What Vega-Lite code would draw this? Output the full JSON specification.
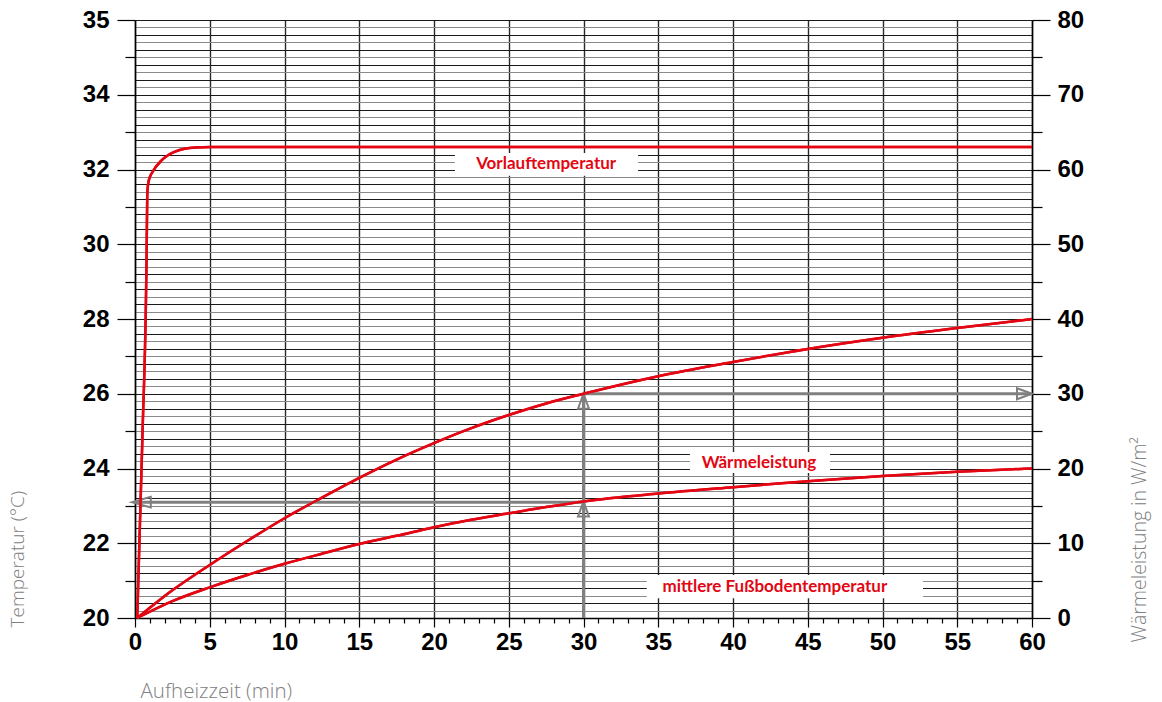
{
  "$schema": "https://vega.github.io/schema/vega-lite/v6.json",
  "width": 897,
  "height": 598,
  "autosize": {"type": "none"},
  "padding": {"left": 135, "top": 20, "right": 130, "bottom": 84},
  "background": "white",
  "config": {"view": {"stroke": null}},
  "datasets": {
    "temperatur": [
      {"kurve": "Vorlauftemperatur", "min": 0.15, "t": 20},
      {"kurve": "Vorlauftemperatur", "min": 0.49, "t": 24.76},
      {"kurve": "Vorlauftemperatur", "min": 0.78, "t": 29.85},
      {"kurve": "Vorlauftemperatur", "min": 0.82, "t": 31.32},
      {"kurve": "Vorlauftemperatur", "min": 0.87, "t": 31.59},
      {"kurve": "Vorlauftemperatur", "min": 0.97, "t": 31.77},
      {"kurve": "Vorlauftemperatur", "min": 1.12, "t": 31.9},
      {"kurve": "Vorlauftemperatur", "min": 1.79, "t": 32.25},
      {"kurve": "Vorlauftemperatur", "min": 2.68, "t": 32.48},
      {"kurve": "Vorlauftemperatur", "min": 4.01, "t": 32.59},
      {"kurve": "Vorlauftemperatur", "min": 5.13, "t": 32.6},
      {"kurve": "Vorlauftemperatur", "min": 60, "t": 32.6},
      {"kurve": "mittlere Fußbodentemperatur", "min": 0.15, "t": 20},
      {"kurve": "mittlere Fußbodentemperatur", "min": 2.5, "t": 20.45},
      {"kurve": "mittlere Fußbodentemperatur", "min": 5, "t": 20.82},
      {"kurve": "mittlere Fußbodentemperatur", "min": 7.5, "t": 21.15},
      {"kurve": "mittlere Fußbodentemperatur", "min": 10, "t": 21.45},
      {"kurve": "mittlere Fußbodentemperatur", "min": 12.5, "t": 21.72},
      {"kurve": "mittlere Fußbodentemperatur", "min": 15, "t": 21.98},
      {"kurve": "mittlere Fußbodentemperatur", "min": 17.5, "t": 22.2},
      {"kurve": "mittlere Fußbodentemperatur", "min": 20, "t": 22.43},
      {"kurve": "mittlere Fußbodentemperatur", "min": 22.5, "t": 22.63},
      {"kurve": "mittlere Fußbodentemperatur", "min": 25, "t": 22.8},
      {"kurve": "mittlere Fußbodentemperatur", "min": 27.5, "t": 22.97},
      {"kurve": "mittlere Fußbodentemperatur", "min": 30, "t": 23.12},
      {"kurve": "mittlere Fußbodentemperatur", "min": 35, "t": 23.33},
      {"kurve": "mittlere Fußbodentemperatur", "min": 40, "t": 23.5},
      {"kurve": "mittlere Fußbodentemperatur", "min": 45, "t": 23.66},
      {"kurve": "mittlere Fußbodentemperatur", "min": 50, "t": 23.8},
      {"kurve": "mittlere Fußbodentemperatur", "min": 55, "t": 23.91},
      {"kurve": "mittlere Fußbodentemperatur", "min": 60, "t": 24.0}
    ],
    "leistung": [
      {"min": 0.15, "w": 0},
      {"min": 2.5, "w": 3.7},
      {"min": 5, "w": 7.1},
      {"min": 7.5, "w": 10.3},
      {"min": 10, "w": 13.35},
      {"min": 12.5, "w": 16.1},
      {"min": 15, "w": 18.75},
      {"min": 17.5, "w": 21.2},
      {"min": 20, "w": 23.4},
      {"min": 22.5, "w": 25.4},
      {"min": 25, "w": 27.15},
      {"min": 27.5, "w": 28.7},
      {"min": 30, "w": 30},
      {"min": 35, "w": 32.35},
      {"min": 40, "w": 34.25},
      {"min": 45, "w": 36},
      {"min": 50, "w": 37.5},
      {"min": 55, "w": 38.8},
      {"min": 60, "w": 40}
    ],
    "pfeile": [
      {"von_min": 30, "von_t": 20, "bis_min": 30, "bis_t": 26},
      {"von_min": 30, "von_t": 23.1, "bis_min": 0, "bis_t": 23.1},
      {"von_min": 30, "von_t": 26, "bis_min": 60, "bis_t": 26}
    ],
    "spitzen": [
      {"min": 30, "t": 26, "richtung": "oben"},
      {"min": 30, "t": 23.12, "richtung": "oben"},
      {"min": 60, "t": 26, "richtung": "rechts"},
      {"min": 0, "t": 23.1, "richtung": "links"}
    ],
    "beschriftung": [
      {"text": "Vorlauftemperatur", "min": 27.5, "t": 32.15, "min1": 21.4, "min2": 33.65, "t1": 32.44, "t2": 31.83},
      {"text": "Wärmeleistung", "min": 41.74, "t": 24.15, "min1": 37.12, "min2": 46.49, "t1": 24.44, "t2": 23.88},
      {"text": "mittlere Fußbodentemperatur", "min": 42.8, "t": 20.83, "min1": 34.23, "min2": 52.71, "t1": 21.15, "t2": 20.53}
    ]
  },
  "layer": [
    {
      "data": {"name": "temperatur"},
      "mark": {"type": "line", "color": "#e30613", "strokeWidth": 2.5, "interpolate": "monotone"},
      "encoding": {
        "x": {
          "field": "min", "type": "quantitative",
          "scale": {"domain": [0, 60], "nice": false, "zero": false},
          "axis": {
            "title": "Aufheizzeit (min)",
            "values": [0,1,2,3,4,5,6,7,8,9,10,11,12,13,14,15,16,17,18,19,20,21,22,23,24,25,26,27,28,29,30,31,32,33,34,35,36,37,38,39,40,41,42,43,44,45,46,47,48,49,50,51,52,53,54,55,56,57,58,59,60],
            "grid": true,
            "gridColor": "#2a2a2a",
            "gridWidth": {"condition": {"test": "datum.value % 5 === 0", "value": 1.4}, "value": 0},
            "tickSize": {"condition": {"test": "datum.value % 5 === 0", "value": 9}, "value": 5},
            "tickColor": "#000000",
            "tickWidth": 1.2,
            "labelExpr": "datum.value % 5 === 0 ? datum.value : ''",
            "labelFont": "Liberation Sans",
            "labelFontWeight": "bold",
            "labelFontSize": 24,
            "labelColor": "#000000",
            "labelPadding": 3,
            "labelOverlap": false,
            "labelFlush": false,
            "labelBound": false,
            "domainColor": "#000000",
            "domainWidth": 1.5,
            "titleFont": "Open Sans",
            "titleFontWeight": 300,
            "titleFontSize": 20.5,
            "titleColor": "#808080",
            "titleAnchor": "start",
            "titleX": 5,
            "titlePadding": 27
          }
        },
        "y": {
          "field": "t", "type": "quantitative",
          "scale": {"domain": [20, 36], "nice": false, "zero": false},
          "axis": {
            "title": "Temperatur (°C)",
            "values": [20,20.2,20.4,20.6,20.8,21,21.2,21.4,21.6,21.8,22,22.2,22.4,22.6,22.8,23,23.2,23.4,23.6,23.8,24,24.2,24.4,24.6,24.8,25,25.2,25.4,25.6,25.8,26,26.2,26.4,26.6,26.8,27,27.2,27.4,27.6,27.8,28,28.2,28.4,28.6,28.8,29,29.2,29.4,29.6,29.8,30,30.2,30.4,30.6,30.8,31,31.2,31.4,31.6,31.8,32,32.2,32.4,32.6,32.8,33,33.2,33.4,33.6,33.8,34,34.2,34.4,34.6,34.8,35,35.2,35.4,35.6,35.8,36],
            "grid": true,
            "gridWidth": 1,
            "gridColor": {"condition": {"test": "round(datum.value * 5) % 2 === 0", "value": "#1a1a1a"}, "value": "#8a8a8a"},
            "tickWidth": {"condition": {"test": "abs(datum.value - round(datum.value)) < 0.001", "value": 1.2}, "value": 0},
            "tickSize": {"condition": {"test": "round(datum.value) % 2 === 0", "value": 18}, "value": 10},
            "tickColor": "#000000",
            "labelExpr": "datum.value === 36 ? '35' : ((abs(datum.value - round(datum.value)) < 0.001 && round(datum.value) % 2 === 0) ? datum.value : '')",
            "labelFont": "Liberation Sans",
            "labelFontWeight": "bold",
            "labelFontSize": 24,
            "labelColor": "#000000",
            "labelPadding": 8,
            "labelOverlap": false,
            "labelFlush": false,
            "labelBound": false,
            "domainColor": "#000000",
            "domainWidth": 1.5,
            "titleFont": "Open Sans",
            "titleFontWeight": 300,
            "titleFontSize": 19,
            "titleColor": "#808080",
            "titleAnchor": "start",
            "titleY": 607,
            "titlePadding": 55
          }
        },
        "detail": {"field": "kurve", "type": "nominal"}
      }
    },
    {
      "data": {"name": "leistung"},
      "mark": {"type": "line", "color": "#e30613", "strokeWidth": 2.5, "interpolate": "monotone"},
      "encoding": {
        "x": {"field": "min", "type": "quantitative", "scale": {"domain": [0, 60], "nice": false, "zero": false}, "axis": null},
        "y": {
          "field": "w", "type": "quantitative",
          "scale": {"domain": [0, 80], "nice": false, "zero": false},
          "axis": {
            "orient": "right",
            "title": "Wärmeleistung in W/m²",
            "values": [0,5,10,15,20,25,30,35,40,45,50,55,60,65,70,75,80],
            "grid": false,
            "tickSize": {"condition": {"test": "datum.value % 10 === 0", "value": 18}, "value": 10},
            "tickColor": "#000000",
            "tickWidth": 1.2,
            "labelExpr": "datum.value % 10 === 0 ? datum.value : ''",
            "labelFont": "Liberation Sans",
            "labelFontWeight": "bold",
            "labelFontSize": 24,
            "labelColor": "#000000",
            "labelPadding": 7,
            "labelOverlap": false,
            "labelFlush": false,
            "labelBound": false,
            "domainColor": "#000000",
            "domainWidth": 1.5,
            "titleFont": "Open Sans",
            "titleFontWeight": 300,
            "titleFontSize": 19.5,
            "titleColor": "#808080",
            "titleAnchor": "start",
            "titleAngle": 270,
            "titleY": 622,
            "titlePadding": 66
          }
        }
      }
    },
    {
      "data": {"name": "beschriftung"},
      "mark": {"type": "rect", "fill": "white"},
      "encoding": {
        "x": {"field": "min1", "type": "quantitative", "scale": {"domain": [0, 60], "nice": false, "zero": false}, "axis": null},
        "x2": {"field": "min2"},
        "y": {"field": "t1", "type": "quantitative", "scale": {"domain": [20, 36], "nice": false, "zero": false}, "axis": null},
        "y2": {"field": "t2"}
      }
    },
    {
      "data": {"name": "pfeile"},
      "mark": {"type": "rule", "color": "#808080", "strokeWidth": 3},
      "encoding": {
        "x": {"field": "von_min", "type": "quantitative", "scale": {"domain": [0, 60], "nice": false, "zero": false}, "axis": null},
        "x2": {"field": "bis_min"},
        "y": {"field": "von_t", "type": "quantitative", "scale": {"domain": [20, 36], "nice": false, "zero": false}, "axis": null},
        "y2": {"field": "bis_t"}
      }
    },
    {
      "data": {"name": "spitzen"},
      "mark": {"type": "point", "filled": false, "color": "#7f7f7f", "strokeWidth": 2, "size": 225, "opacity": 1},
      "encoding": {
        "x": {"field": "min", "type": "quantitative", "scale": {"domain": [0, 60], "nice": false, "zero": false}, "axis": null},
        "y": {"field": "t", "type": "quantitative", "scale": {"domain": [20, 36], "nice": false, "zero": false}, "axis": null},
        "shape": {
          "field": "richtung", "type": "nominal", "legend": null,
          "scale": {
            "domain": ["oben", "rechts", "links"],
            "range": ["M0,0L-0.73,2L0.73,2Z", "M0,0L-2,-0.73L-2,0.73Z", "M-0.4,0L2.1,-0.71L2.1,0.71Z"]
          }
        }
      }
    },
    {
      "data": {"name": "temperatur"},
      "mark": {"type": "line", "color": "#e30613", "strokeWidth": 2.5, "interpolate": "monotone"},
      "encoding": {
        "x": {"field": "min", "type": "quantitative", "scale": {"domain": [0, 60], "nice": false, "zero": false}, "axis": null},
        "y": {"field": "t", "type": "quantitative", "scale": {"domain": [20, 36], "nice": false, "zero": false}, "axis": null},
        "detail": {"field": "kurve", "type": "nominal"}
      }
    },
    {
      "data": {"name": "leistung"},
      "mark": {"type": "line", "color": "#e30613", "strokeWidth": 2.5, "interpolate": "monotone"},
      "encoding": {
        "x": {"field": "min", "type": "quantitative", "scale": {"domain": [0, 60], "nice": false, "zero": false}, "axis": null},
        "y": {"field": "w", "type": "quantitative", "scale": {"domain": [0, 80], "nice": false, "zero": false}, "axis": null}
      }
    },
    {
      "data": {"name": "beschriftung"},
      "mark": {"type": "text", "color": "#e30613", "font": "Lato", "fontWeight": "bold", "fontSize": 17, "align": "center", "baseline": "middle"},
      "encoding": {
        "x": {"field": "min", "type": "quantitative", "scale": {"domain": [0, 60], "nice": false, "zero": false}, "axis": null},
        "y": {"field": "t", "type": "quantitative", "scale": {"domain": [20, 36], "nice": false, "zero": false}, "axis": null},
        "text": {"field": "text", "type": "nominal"}
      }
    }
  ],
  "resolve": {"scale": {"x": "independent", "y": "independent"}}
}
